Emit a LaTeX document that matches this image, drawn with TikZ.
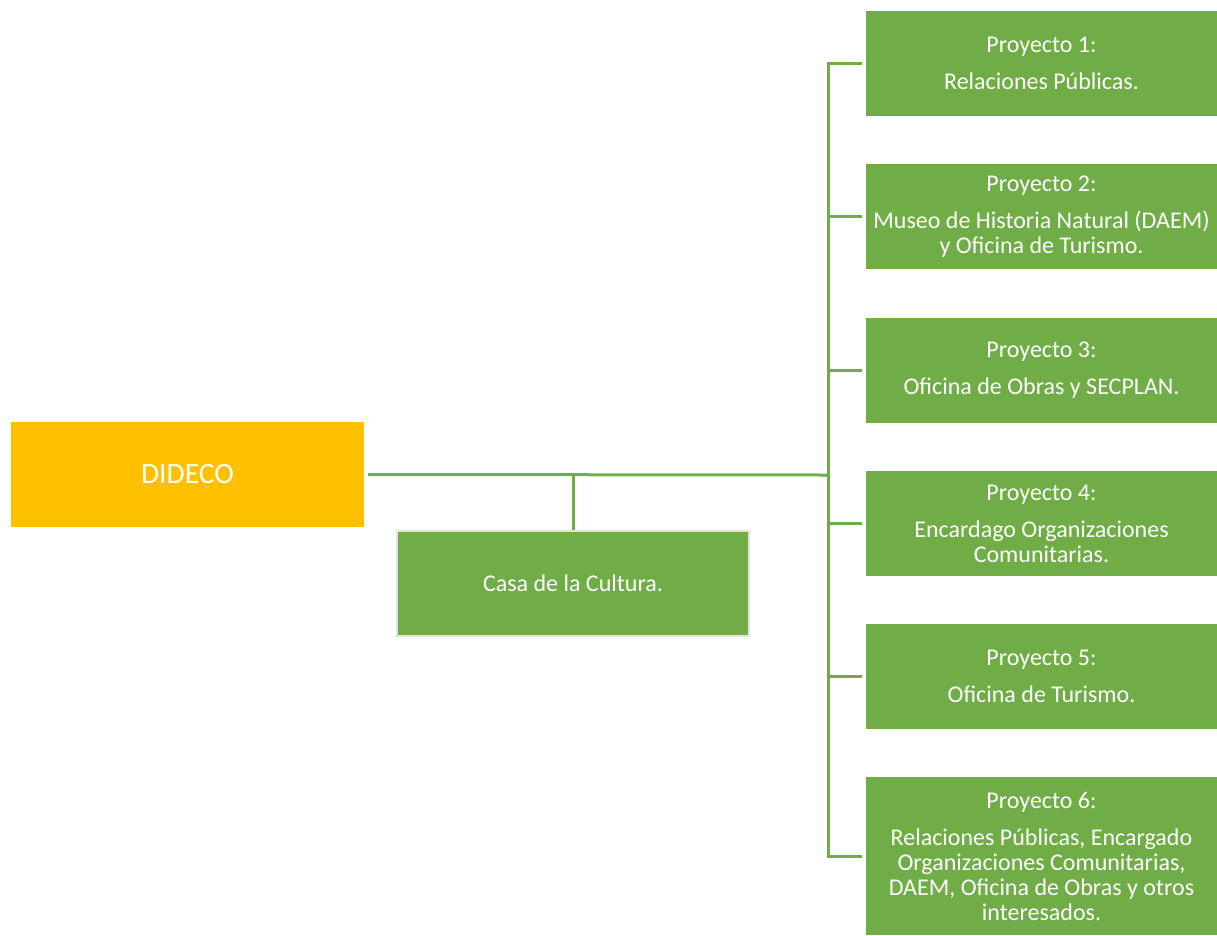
\documentclass[tikz,border=0pt]{standalone}
\usepackage{fontspec}
\setmainfont{Carlito}
\definecolor{pgreen}{HTML}{70AD47}
\definecolor{pyellow}{HTML}{FFC000}
\definecolor{pborder}{HTML}{E2E2E2}
\begin{document}
\begin{tikzpicture}[x=1pt,y=-1pt,
  base/.style={inner sep=0pt, align=center, text=white},
  proj/.style={base, fill=pgreen, minimum width=351pt, minimum height=105pt,
    font=\fontsize{24}{25}\selectfont},
  link/.style={draw=pgreen, line width=3pt}]
\useasboundingbox (0,0) rectangle (1217,935);
\node[base, fill=pyellow, minimum width=353pt, minimum height=105pt,
  font=\fontsize{29.5}{32}\selectfont] (dideco) at (187.5,474.5) {DIDECO};
\node[base, fill=pgreen, draw=pborder, line width=2pt, minimum width=352pt, minimum height=105pt,
  font=\fontsize{24}{25}\selectfont] (casa) at (573,583.5) {Casa de la Cultura.};
\node[proj] (p1) at (1041.5,63.5) {Proyecto 1:\\[12pt]Relaciones Públicas.};
\node[proj] (p2) at (1041.5,216.5) {Proyecto 2:\\[12pt]Museo de Historia Natural (DAEM)\\y Oficina de Turismo.};
\node[proj] (p3) at (1041.5,370.5) {Proyecto 3:\\[12pt]Oficina de Obras y SECPLAN.};
\node[proj] (p4) at (1041.5,523.5) {Proyecto 4:\\[12pt]Encardago Organizaciones\\Comunitarias.};
\node[proj] (p5) at (1041.5,676.5) {Proyecto 5:\\[12pt]Oficina de Turismo.};
\node[proj, minimum height=158pt] (p6) at (1041.5,856) {Proyecto 6:\\[12pt]Relaciones Públicas, Encargado\\Organizaciones Comunitarias,\\DAEM, Oficina de Obras y otros\\interesados.};
\coordinate (J) at (828,475);
\draw[link] ([xshift=4pt]dideco.east) -- (J);
\draw[link] (casa.north) -- (casa.north |- J);
\foreach \p in {p1,p2,p3,p4,p5,p6}
  \draw[link, shorten >=4pt] (J) |- (\p.west);
\end{tikzpicture}
\end{document}
